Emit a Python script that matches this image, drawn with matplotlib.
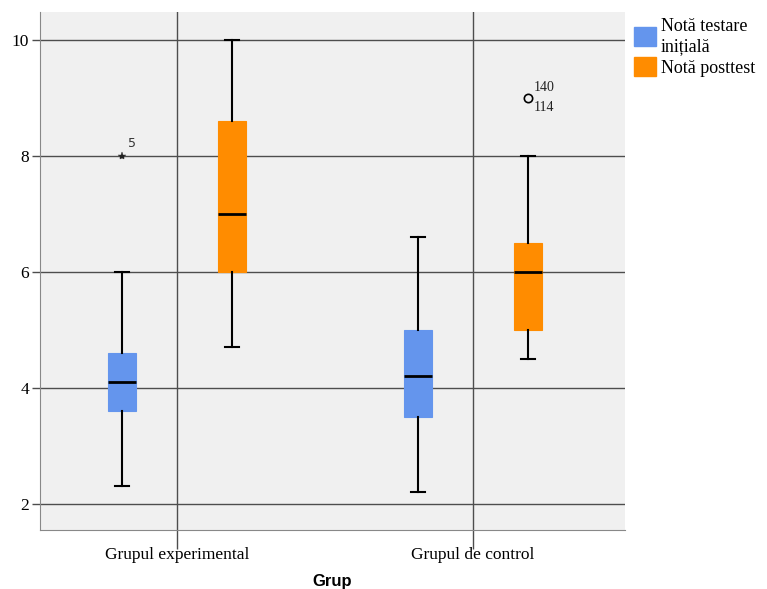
import matplotlib.pyplot as plt
from matplotlib.patches import Patch

# data
groups = ["Grupul experimental", "Grupul de control"]
series = ["Notă testare\ninițială", "Notă posttest"]
colors = ["#6495ed", "#ff8c00"]
# per group: [initial, posttest] -> (whislo, q1, med, q3, whishi)
stats_vals = [
    [(2.3, 3.6, 4.1, 4.6, 6.0), (4.7, 6.0, 7.0, 8.6, 10.0)],
    [(2.2, 3.5, 4.2, 5.0, 6.6), (4.5, 5.0, 6.0, 6.5, 8.0)],
]
# outliers: (group, series, value, marker, labels)
outliers = [
    (0, 0, 8.0, "*", ["5"]),
    (1, 1, 9.0, "o", ["140", "114"]),
]

fig = plt.figure(figsize=(7.67, 5.89), dpi=100)
ax = fig.add_axes([40 / 767, 1 - 530 / 589, 585 / 767, 518 / 589])
ax.set_facecolor("#f0f0f0")

offset = 0.185
width = 0.095
for gi, g in enumerate(stats_vals):
    for si, s in enumerate(g):
        lo, q1, med, q3, hi = s
        st = dict(whislo=lo, q1=q1, med=med, q3=q3, whishi=hi, fliers=[])
        pos = gi + (si * 2 - 1) * offset
        ax.bxp([st], positions=[pos], widths=width, patch_artist=True,
               showfliers=False,
               boxprops=dict(facecolor=colors[si], edgecolor=colors[si], linewidth=0.8),
               medianprops=dict(color="black", linewidth=2),
               whiskerprops=dict(color="black", linewidth=1.5),
               capprops=dict(color="black", linewidth=1.5),
               capwidths=width * 0.5, zorder=3)

for gi, si, v, m, labs in outliers:
    pos = gi + (si * 2 - 1) * offset
    if m == "*":
        ax.plot(pos, v, marker="*", color="#222222", markersize=6, markeredgewidth=0.3,
                linestyle="none", zorder=4)
        ax.text(pos + 0.02, v + 0.1, labs[0], fontsize=9, color="#333333",
                family="DejaVu Sans", ha="left", va="bottom")
    else:
        ax.plot(pos, v, marker="o", markerfacecolor="none", markeredgecolor="black",
                markersize=6, markeredgewidth=1.2, linestyle="none", zorder=4)
        ax.text(pos + 0.02, v + 0.06, labs[0], fontsize=10, color="#222222",
                family="Liberation Serif", ha="left", va="bottom")
        ax.text(pos + 0.02, v - 0.06, labs[1], fontsize=10, color="#222222",
                family="Liberation Serif", ha="left", va="top")

ax.set_xlim(-0.463, 1.514)
ax.set_ylim(1.55, 10.48)
ax.set_xticks(range(len(groups)))
ax.set_xticklabels(groups, family="Liberation Serif", fontsize=12.5)
ax.set_yticks([2, 4, 6, 8, 10])
ax.set_yticklabels(["2", "4", "6", "8", "10"], family="Liberation Serif", fontsize=12.5)
ax.grid(True, color="#4d4d4d", linewidth=1)
ax.set_axisbelow(True)
ax.tick_params(axis="x", length=14, width=1, color="#4d4d4d", pad=-2)
ax.tick_params(axis="y", length=6, width=1, color="#4d4d4d", pad=2)
for sp in ["top", "right"]:
    ax.spines[sp].set_visible(False)
for sp in ["left", "bottom"]:
    ax.spines[sp].set_color("#888888")
ax.set_xlabel("Grup", family="Liberation Sans", fontweight="bold", fontsize=12, labelpad=8)

handles = [Patch(facecolor=c, edgecolor=c) for c in colors]
fig.legend(handles, series, loc="upper left", bbox_to_anchor=(634 / 767, 1 - 18 / 589),
           frameon=False, prop=dict(family="Liberation Serif", size=13),
           handlelength=1.2, handleheight=1.2, handletextpad=0.3, labelspacing=0.15,
           borderaxespad=0, borderpad=0)

fig.savefig("out.png", dpi=100)
